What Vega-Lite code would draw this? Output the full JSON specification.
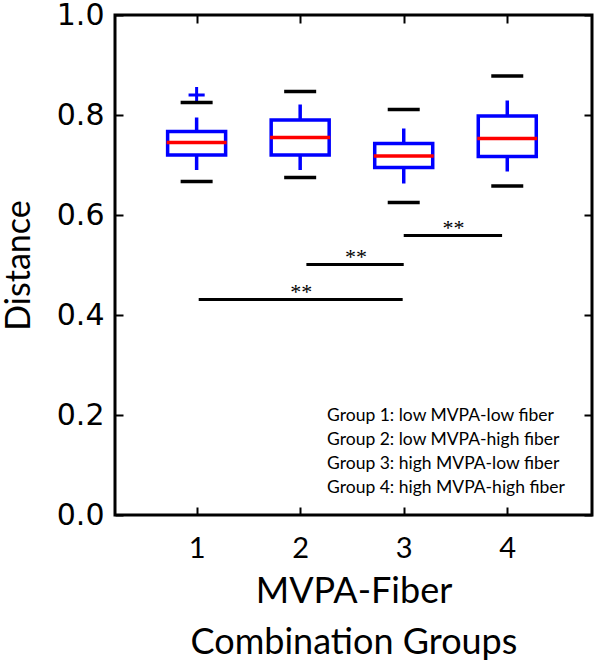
{
  "$schema": "https://vega.github.io/schema/vega-lite/v6.json",
  "width": 477,
  "height": 500,
  "autosize": {"type": "none"},
  "padding": {"left": 115, "top": 15, "right": 5, "bottom": 151},
  "background": "white",
  "config": {"view": {"stroke": "black", "strokeWidth": 3}},
  "datasets": {
    "boxes": [
      {"group": 1, "cmin": 0.667, "wlo": 0.69, "q1": 0.72, "med": 0.745, "q3": 0.767, "whi": 0.795, "cmax": 0.825},
      {"group": 2, "cmin": 0.675, "wlo": 0.69, "q1": 0.72, "med": 0.755, "q3": 0.79, "whi": 0.821, "cmax": 0.847},
      {"group": 3, "cmin": 0.625, "wlo": 0.663, "q1": 0.695, "med": 0.718, "q3": 0.743, "whi": 0.773, "cmax": 0.811},
      {"group": 4, "cmin": 0.658, "wlo": 0.687, "q1": 0.717, "med": 0.753, "q3": 0.798, "whi": 0.829, "cmax": 0.878}
    ],
    "outliers": [
      {"group": 1, "value": 0.84}
    ],
    "sig": [
      {"from": 1.02, "to": 2.99, "level": 0.431, "mid": 2.01, "label": "**"},
      {"from": 2.06, "to": 3.0, "level": 0.501, "mid": 2.54, "label": "**"},
      {"from": 3.0, "to": 3.95, "level": 0.559, "mid": 3.48, "label": "**"}
    ]
  },
  "resolve": {"axis": {"x": "independent", "y": "independent"}},
  "layer": [
    {
      "data": {"name": "boxes"},
      "mark": {"type": "rule", "color": "#0000ff", "strokeWidth": 3.5},
      "encoding": {
        "x": {
          "field": "group", "type": "quantitative",
          "scale": {"domain": [0.26, 4.77], "nice": false, "zero": false},
          "axis": {
            "orient": "bottom", "values": [1, 2, 3, 4], "format": "d", "grid": false, "domain": false,
            "tickSize": -8, "tickWidth": 2, "tickColor": "black",
            "labelFont": "Lato", "labelFontSize": 29, "labelColor": "black", "labelPadding": 27,
            "title": ["MVPA-Fiber", "Combination Groups"],
            "titleFont": "Lato", "titleFontSize": 36, "titleFontWeight": "normal", "titleColor": "black",
            "titleLineHeight": 51, "titlePadding": 11
          }
        },
        "y": {
          "field": "wlo", "type": "quantitative",
          "scale": {"domain": [0, 1], "nice": false, "zero": true},
          "axis": {
            "orient": "left", "values": [0, 0.2, 0.4, 0.6, 0.8, 1.0], "format": ".1f", "grid": false, "domain": false,
            "tickSize": -8, "tickWidth": 2, "tickColor": "black",
            "labelFont": "DejaVu Sans", "labelFontSize": 30, "labelColor": "black", "labelPadding": 19,
            "title": "Distance",
            "titleFont": "Lato", "titleFontSize": 34, "titleFontWeight": "normal", "titleColor": "black",
            "titlePadding": 20
          }
        },
        "y2": {"field": "whi"}
      }
    },
    {
      "data": {"name": "boxes"},
      "mark": {"type": "bar", "width": 58, "fill": "white", "stroke": "#0000ff", "strokeWidth": 3.5},
      "encoding": {
        "x": {
          "field": "group", "type": "quantitative",
          "axis": {
            "orient": "top", "values": [1, 2, 3, 4], "labels": false, "grid": false, "domain": false,
            "tickSize": -8, "tickWidth": 2, "tickColor": "black", "title": null
          }
        },
        "y": {
          "field": "q1", "type": "quantitative",
          "axis": {
            "orient": "right", "values": [0, 0.2, 0.4, 0.6, 0.8, 1.0], "labels": false, "grid": false, "domain": false,
            "tickSize": -8, "tickWidth": 2, "tickColor": "black", "title": null
          }
        },
        "y2": {"field": "q3"}
      }
    },
    {
      "data": {"name": "boxes"},
      "mark": {"type": "tick", "color": "#ff0000", "size": 60, "thickness": 3.5, "opacity": 1, "orient": "horizontal"},
      "encoding": {
        "x": {"field": "group", "type": "quantitative", "axis": null},
        "y": {"field": "med", "type": "quantitative", "axis": null}
      }
    },
    {
      "data": {"name": "outliers"},
      "mark": {"type": "point", "shape": "M-1,0L1,0M0,-1L0,1", "size": 260, "filled": false, "color": "#0000ff", "strokeWidth": 3, "opacity": 1},
      "encoding": {
        "x": {"field": "group", "type": "quantitative", "axis": null},
        "y": {"field": "value", "type": "quantitative", "axis": null}
      }
    },
    {
      "data": {"name": "boxes"},
      "mark": {"type": "tick", "color": "black", "size": 32, "thickness": 3.5, "opacity": 1, "orient": "horizontal"},
      "encoding": {
        "x": {"field": "group", "type": "quantitative", "axis": null},
        "y": {"field": "cmin", "type": "quantitative", "axis": null}
      }
    },
    {
      "data": {"name": "boxes"},
      "mark": {"type": "tick", "color": "black", "size": 32, "thickness": 3.5, "opacity": 1, "orient": "horizontal"},
      "encoding": {
        "x": {"field": "group", "type": "quantitative", "axis": null},
        "y": {"field": "cmax", "type": "quantitative", "axis": null}
      }
    },
    {
      "data": {"name": "sig"},
      "mark": {"type": "rule", "color": "black", "strokeWidth": 3},
      "encoding": {
        "x": {"field": "from", "type": "quantitative", "axis": null},
        "x2": {"field": "to"},
        "y": {"field": "level", "type": "quantitative", "axis": null}
      }
    },
    {
      "data": {"name": "sig"},
      "mark": {"type": "text", "font": "Liberation Serif", "fontSize": 22, "color": "black", "align": "center", "baseline": "alphabetic", "dy": -1},
      "encoding": {
        "x": {"field": "mid", "type": "quantitative", "axis": null},
        "y": {"field": "level", "type": "quantitative", "axis": null},
        "text": {"field": "label"}
      }
    },
    {
      "data": {"values": [{"note": "groups"}]},
      "mark": {
        "type": "text", "font": "Lato", "fontSize": 17.5, "color": "black", "align": "left", "baseline": "alphabetic",
        "lineHeight": 24,
        "text": ["Group 1: low MVPA-low fiber", "Group 2: low MVPA-high fiber", "Group 3: high MVPA-low fiber", "Group 4: high MVPA-high fiber"]
      },
      "encoding": {
        "x": {"datum": 2.26, "type": "quantitative", "axis": null},
        "y": {"datum": 0.189, "type": "quantitative", "axis": null}
      }
    }
  ]
}
